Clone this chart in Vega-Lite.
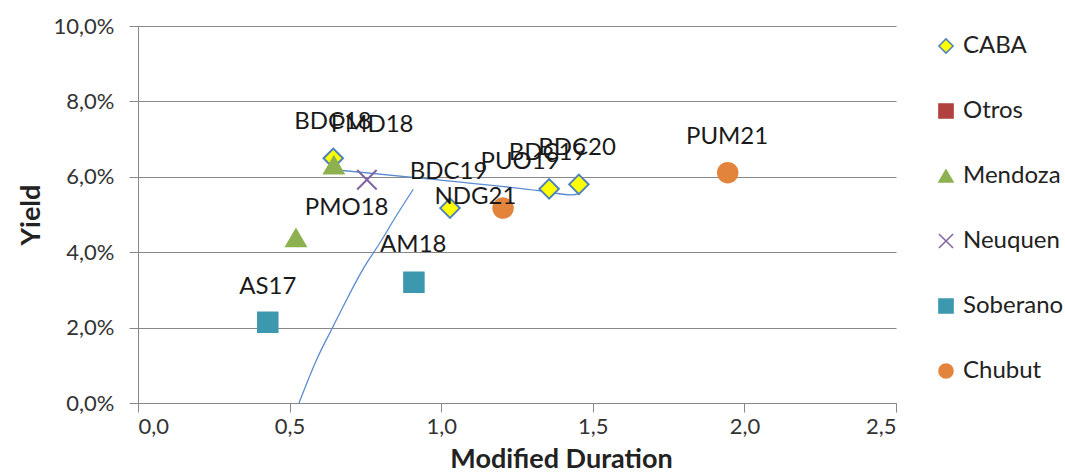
{
  "$schema": "https://vega.github.io/schema/vega-lite/v6.json",
  "autosize": "none",
  "width": 758,
  "height": 377,
  "padding": {"left": 138, "top": 26, "right": 169, "bottom": 69},
  "config": {
    "locale": {"number": {"decimal": ",", "thousands": ".", "grouping": [3], "currency": ["", " €"]}},
    "view": {"stroke": null},
    "font": "Lato",
    "axis": {"labelFont": "Lato", "titleFont": "Lato", "labelColor": "#333333", "titleColor": "#222222"}
  },
  "datasets": {
    "bonds": [
      {"series": "CABA", "bond": "BDC18", "duration": 0.644, "yield": 0.0649, "label_duration": 0.643, "label_yield": 0.0745},
      {"series": "Mendoza", "bond": "PMD18", "duration": 0.646, "yield": 0.0631, "label_duration": 0.772, "label_yield": 0.0737},
      {"series": "Neuquen", "bond": "NDG21", "duration": 0.755, "yield": 0.0592, "label_duration": 1.113, "label_yield": 0.0547},
      {"series": "Mendoza", "bond": "PMO18", "duration": 0.521, "yield": 0.0438, "label_duration": 0.688, "label_yield": 0.0516},
      {"series": "Soberano", "bond": "AS17", "duration": 0.428, "yield": 0.0214, "label_duration": 0.428, "label_yield": 0.0308},
      {"series": "Soberano", "bond": "AM18", "duration": 0.910, "yield": 0.0320, "label_duration": 0.908, "label_yield": 0.0419},
      {"series": "CABA", "bond": "BDC19", "duration": 1.029, "yield": 0.0517, "label_duration": 1.024, "label_yield": 0.0614},
      {"series": "Chubut", "bond": "PUO19", "duration": 1.204, "yield": 0.0517, "label_duration": 1.260, "label_yield": 0.0640},
      {"series": "CABA", "bond": "BDC19", "duration": 1.356, "yield": 0.0568, "label_duration": 1.351, "label_yield": 0.0663},
      {"series": "CABA", "bond": "BDC20", "duration": 1.454, "yield": 0.0580, "label_duration": 1.448, "label_yield": 0.0676},
      {"series": "Chubut", "bond": "PUM21", "duration": 1.945, "yield": 0.0611, "label_duration": 1.943, "label_yield": 0.0706}
    ],
    "trend": [
      {"line": "A", "duration": 0.633, "yield": 0.0620},
      {"line": "A", "duration": 0.990, "yield": 0.0592},
      {"line": "A", "duration": 1.326, "yield": 0.0563},
      {"line": "A", "duration": 1.430, "yield": 0.0552},
      {"line": "A", "duration": 1.458, "yield": 0.0556},
      {"line": "B", "duration": 0.531, "yield": 0.0},
      {"line": "B", "duration": 0.589, "yield": 0.0115},
      {"line": "B", "duration": 0.641, "yield": 0.0199},
      {"line": "B", "duration": 0.688, "yield": 0.0274},
      {"line": "B", "duration": 0.745, "yield": 0.0359},
      {"line": "B", "duration": 0.798, "yield": 0.0425},
      {"line": "B", "duration": 0.853, "yield": 0.0498},
      {"line": "B", "duration": 0.908, "yield": 0.0567}
    ]
  },
  "layer": [
    {
      "data": {"name": "trend"},
      "mark": {"type": "line", "color": "#5B8BD0", "strokeWidth": 1.3, "interpolate": "monotone", "clip": true},
      "encoding": {
        "x": {"field": "duration", "type": "quantitative", "scale": {"domain": [0, 2.5], "nice": false},
          "axis": {"values": [0, 0.5, 1, 1.5, 2, 2.5], "format": ".1f", "title": "Modified Duration", "grid": false,
            "domainColor": "#888888", "tickColor": "#888888", "tickSize": 9, "labelFontSize": 22, "labelPadding": 4,
            "titleFontSize": 27, "titleFontWeight": "bold", "titlePadding": 9, "titleX": 423, "titleAlign": "center"}},
        "y": {"field": "yield", "type": "quantitative", "scale": {"domain": [0, 0.1], "nice": false},
          "axis": {"values": [0, 0.02, 0.04, 0.06, 0.08, 0.1], "format": ".1%", "title": "Yield", "grid": true,
            "gridColor": "#888888", "domainColor": "#888888", "tickColor": "#888888", "tickSize": 9, "labelFontSize": 22,
            "labelPadding": 15, "titleFontSize": 27, "titleFontWeight": "bold", "titlePadding": 8}},
        "detail": {"field": "line"}
      }
    },
    {
      "data": {"name": "bonds"},
      "mark": {"type": "point", "size": 380, "strokeWidth": 2, "opacity": 1},
      "encoding": {
        "x": {"field": "duration", "type": "quantitative"},
        "y": {"field": "yield", "type": "quantitative"},
        "fill": {"field": "series", "type": "nominal",
          "scale": {"domain": ["CABA", "Otros", "Mendoza", "Neuquen", "Soberano", "Chubut"],
            "range": ["#FFFF00", "#B0413E", "#8DB150", "#8064A2", "#3C98AF", "#E3843C"]},
          "legend": {"title": null, "orient": "none", "legendX": 796, "legendY": 8, "labelFontSize": 24, "labelFont": "Lato",
            "labelColor": "#222222", "rowPadding": 41, "symbolSize": 200, "symbolStrokeWidth": 1.5, "labelOffset": 5}},
        "stroke": {"field": "series", "type": "nominal",
          "scale": {"domain": ["CABA", "Otros", "Mendoza", "Neuquen", "Soberano", "Chubut"],
            "range": ["#4F81BD", "#B0413E", "#8DB150", "#8064A2", "#3C98AF", "#E3843C"]}},
        "shape": {"field": "series", "type": "nominal",
          "scale": {"domain": ["CABA", "Otros", "Mendoza", "Neuquen", "Soberano", "Chubut"],
            "range": ["diamond", "square", "triangle-up", "M-1,-1L1,1M-1,1L1,-1", "square", "circle"]}}
      }
    },
    {
      "data": {"name": "bonds"},
      "mark": {"type": "text", "fontSize": 24, "font": "Lato", "color": "#1a1a1a", "align": "center", "baseline": "middle"},
      "encoding": {
        "x": {"field": "label_duration", "type": "quantitative"},
        "y": {"field": "label_yield", "type": "quantitative"},
        "text": {"field": "bond"}
      }
    }
  ]
}
